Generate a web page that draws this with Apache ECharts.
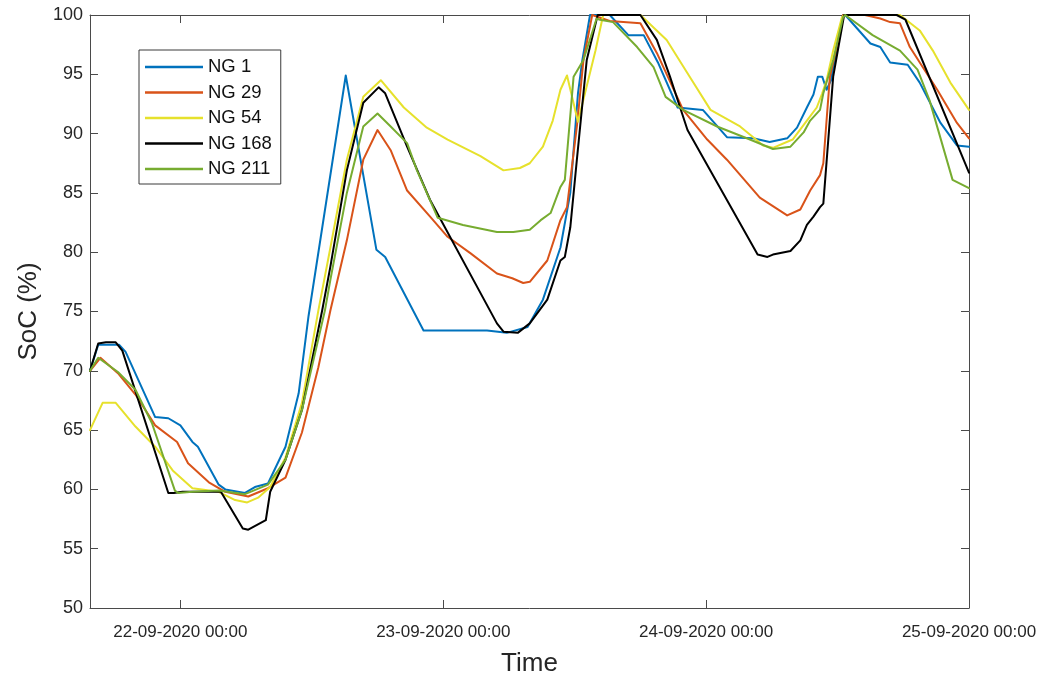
<!DOCTYPE html>
<html>
<head>
<meta charset="utf-8">
<script src="https://cdn.jsdelivr.net/npm/echarts@6/dist/echarts.min.js"></script>
<style>
html,body{margin:0;padding:0;background:#fff;}
#chart{width:1055px;height:679px;}
</style>
</head>
<body>
<div id="chart"></div>
<script>
// Hours relative to 22-09-2020 00:00
const xMin = -8.25, xMax = 72;
const tickHours = [0, 24, 48, 72];
const tickLabels = ['22-09-2020 00:00', '23-09-2020 00:00', '24-09-2020 00:00', '25-09-2020 00:00'];
const seriesNames = ['NG 1', 'NG 29', 'NG 54', 'NG 168', 'NG 211'];

const ng1T = [-8.25,-7.5,-5.6,-5.0,-2.3,-1.1,0,1.1,1.6,3.5,4.1,5.9,6.8,8.0,9.6,10.8,11.7,15.1,17.9,18.7,22.2,28.0,29.8,31.7,33.1,34.7,35.6,36.3,36.7,37.4,38.1,39.2,40.9,42.3,43.6,45.4,47.7,49.9,52.3,53.8,55.4,56.3,57.2,57.8,58.2,58.6,59.0,59.4,60.5,60.7,63.0,63.9,64.8,66.4,67.5,69.4,70.9,72];
const ng1V = [70,72.2,72.2,71.6,66.1,66.0,65.4,64.0,63.6,60.4,60.0,59.7,60.2,60.5,63.6,68.1,74.6,94.9,80.2,79.6,73.4,73.4,73.2,73.7,76.0,80.4,85.0,93.4,96.2,100,100,100,98.3,98.3,96.0,92.2,92.0,89.7,89.6,89.3,89.6,90.5,92.2,93.3,94.8,94.8,93.7,94.5,100,100,97.6,97.3,96.0,95.8,94.3,90.9,89.0,88.9];

const ng29T = [-8.25,-7.3,-5.7,-4.1,-2.3,-0.3,0.7,2.6,4.1,6.2,8.0,9.6,11.1,12.6,13.7,15.2,16.7,18.0,19.2,20.7,22.8,24.4,26.5,28.9,30.3,31.3,31.9,33.5,34.7,35.3,36.2,36.8,37.6,39.2,42.0,43.5,45.9,48.1,49.9,52.9,55.4,56.6,57.5,58.4,58.7,59.3,60.0,60.5,62.5,63.9,64.8,65.7,66.6,69.1,70.9,72];
const ng29V = [70,71.1,69.8,68.0,65.4,64.0,62.2,60.6,59.8,59.4,60.1,61.0,64.8,70.3,75.1,81.0,87.8,90.3,88.6,85.2,83.0,81.3,79.9,78.2,77.8,77.4,77.5,79.3,82.7,83.8,90.6,96.2,100,99.5,99.3,96.8,92.0,89.5,87.8,84.6,83.1,83.6,85.2,86.5,87.5,94.8,97.6,100,100,99.7,99.4,99.3,97.3,93.7,90.9,89.6];

const ng54T = [-8.25,-7.1,-5.9,-4.1,-2.3,-0.7,1.1,3.5,5.0,6.1,7.1,8.2,9.6,11.1,12.6,13.7,15.2,16.7,18.3,20.4,22.5,24.4,27.4,29.5,31.0,31.9,33.1,34.0,34.7,35.3,36.3,37.9,38.6,42.0,44.4,46.5,48.4,51.1,52.3,53.2,54.1,55.9,57.2,58.1,58.6,59.0,59.6,60.4,60.6,65.7,67.5,68.7,70.3,72];
const ng54V = [65.0,67.3,67.3,65.3,63.6,61.6,60.1,59.8,59.1,58.9,59.3,60.2,62.7,67.3,75.1,80.4,87.8,93.1,94.5,92.2,90.5,89.5,88.1,86.9,87.1,87.5,88.9,91.1,93.7,94.9,91.0,97.0,100,100,97.9,94.8,92.0,90.6,89.7,89.0,88.8,89.5,91.1,92.2,93.4,94.5,97.0,99.8,100,100,98.7,97.0,94.3,92.0];

const ng168T = [-8.25,-7.5,-6.8,-5.9,-5.3,-1.1,-0.6,0.2,3.7,5.7,6.2,7.8,8.2,9.6,11.1,12.95,13.7,15.2,16.7,18.1,18.7,20.7,22.8,28.9,29.5,30.8,31.9,33.5,34.7,35.1,35.6,36.2,37.1,38.1,42.0,43.5,44.7,46.3,52.7,53.6,54.1,55.7,56.6,57.2,57.8,58.4,58.7,59.6,60.6,65.4,66.2,72];
const ng168V = [70,72.3,72.4,72.4,71.7,59.7,59.7,59.8,59.8,56.7,56.6,57.4,59.8,62.5,66.7,75.1,78.8,86.9,92.6,93.9,93.4,88.9,84.4,74.0,73.3,73.2,74.0,76.0,79.3,79.6,82.1,87.8,96.2,100,100,97.9,94.8,90.3,79.8,79.6,79.8,80.1,81.0,82.3,83.0,83.8,84.1,94.8,100,100,99.6,86.7];

const ng211T = [-8.25,-7.5,-5.7,-4.1,-2.6,-0.5,-0.2,1.1,3.5,5.9,8.0,9.6,11.1,13.2,13.7,15.2,16.7,18.0,19.2,20.7,21.6,23.5,25.8,28.9,30.4,31.9,32.9,33.8,34.7,35.1,35.9,36.8,38.0,38.3,39.5,41.7,43.2,44.3,45.9,49.0,52.0,54.1,55.7,56.9,57.5,58.4,58.7,59.6,60.5,60.7,63.2,65.7,67.3,68.4,70.5,72];
const ng211V = [70,71.1,69.9,68.4,65.6,59.9,59.7,59.8,59.9,59.6,60.4,62.5,66.7,75.1,77.7,85.0,90.6,91.7,90.6,89.2,86.9,82.9,82.3,81.7,81.7,81.9,82.7,83.3,85.5,86.1,94.8,96.2,99.7,99.6,99.4,97.3,95.6,93.1,92.0,90.6,89.5,88.7,88.9,90.1,91.1,92.0,93.4,96.2,99.8,100,98.3,97.0,95.4,92.8,86.1,85.4];

const colors = ['#0072BD', '#D95319', '#E6E12C', '#000000', '#77AC30'];
const seriesT = [ng1T, ng29T, ng54T, ng168T, ng211T];
const seriesV = [ng1V, ng29V, ng54V, ng168V, ng211V];

const axisColor = '#4a4a4a';
const textColor = '#262626';
const font = 'Liberation Sans, Arial, sans-serif';

const chart = echarts.init(document.getElementById('chart'), null, {renderer: 'canvas'});

const series = seriesNames.map((name, i) => ({
  name: name,
  type: 'line',
  xAxisIndex: 0,
  yAxisIndex: 0,
  symbol: 'none',
  smooth: false,
  color: colors[i],
  lineStyle: {width: 2, color: colors[i], join: 'round', cap: 'round'},
  data: seriesT[i].map((t, k) => [t, seriesV[i][k]])
}));

const option = {
  animation: false,
  backgroundColor: '#ffffff',
  grid: {left: 90, right: 86, top: 15, bottom: 71, containLabel: false, outerBoundsMode: 'none'},
  legend: {
    orient: 'vertical',
    left: 139,
    top: 50,
    data: seriesNames,
    icon: 'rect',
    itemWidth: 58,
    itemHeight: 2.5,
    itemGap: 3.5,
    padding: [6, 9, 4, 6],
    borderColor: '#3a3a3a',
    borderWidth: 1,
    backgroundColor: '#ffffff',
    textStyle: {fontFamily: font, fontSize: 18.5, color: '#111', lineHeight: 22}
  },
  xAxis: [{
    type: 'value',
    min: xMin,
    max: xMax,
    position: 'bottom',
    name: 'Time',
    nameLocation: 'middle',
    nameGap: 43,
    nameTextStyle: {fontFamily: font, fontSize: 26, color: textColor},
    axisLine: {show: true, onZero: false, lineStyle: {color: axisColor, width: 1}},
    axisTick: {show: true, inside: true, length: 8, customValues: tickHours, lineStyle: {color: axisColor}},
    axisLabel: {
      show: true, margin: 16, customValues: tickHours,
      fontFamily: font, fontSize: 17, color: textColor,
      formatter: function (v) { const i = tickHours.indexOf(v); return i >= 0 ? tickLabels[i] : ''; }
    },
    splitLine: {show: false}
  }, {
    type: 'value',
    min: xMin,
    max: xMax,
    position: 'top',
    axisLine: {show: true, onZero: false, lineStyle: {color: axisColor, width: 1}},
    axisTick: {show: true, inside: true, length: 8, customValues: tickHours, lineStyle: {color: axisColor}},
    axisLabel: {show: false},
    splitLine: {show: false}
  }],
  yAxis: [{
    type: 'value',
    min: 50,
    max: 100,
    interval: 5,
    position: 'left',
    name: 'SoC (%)',
    nameLocation: 'middle',
    nameGap: 45,
    nameTextStyle: {fontFamily: font, fontSize: 26, color: textColor},
    axisLine: {show: true, onZero: false, lineStyle: {color: axisColor, width: 1}},
    axisTick: {show: true, inside: true, length: 8, lineStyle: {color: axisColor}},
    axisLabel: {margin: 7, fontFamily: font, fontSize: 18, color: textColor},
    splitLine: {show: false}
  }, {
    type: 'value',
    min: 50,
    max: 100,
    interval: 5,
    position: 'right',
    axisLine: {show: true, onZero: false, lineStyle: {color: axisColor, width: 1}},
    axisTick: {show: true, inside: true, length: 8, lineStyle: {color: axisColor}},
    axisLabel: {show: false},
    splitLine: {show: false}
  }],
  series: series
};

chart.setOption(option);
</script>
</body>
</html>
